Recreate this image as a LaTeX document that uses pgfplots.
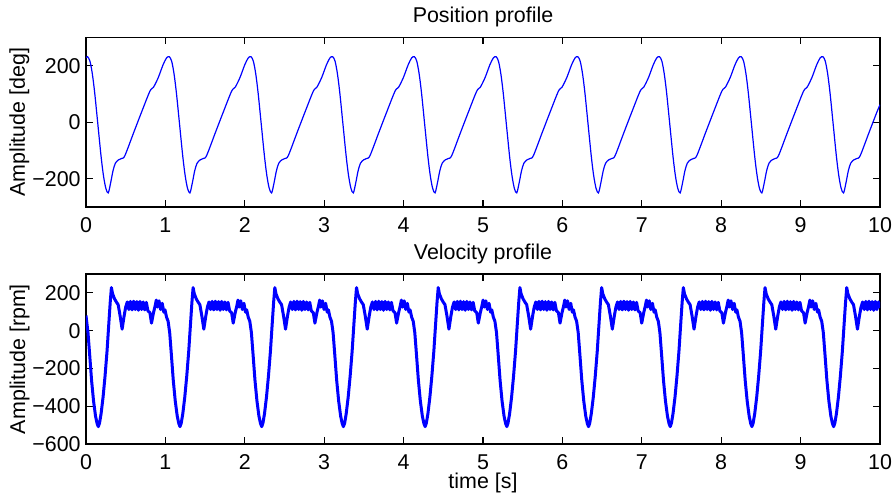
\documentclass[border=0pt]{standalone}
\usepackage{fontspec}
\setmainfont{Liberation Sans}
\usepackage{pgfplots}
\pgfplotsset{compat=1.18}

% matlab-like subplot look, 1 px of the target = 0.5bp
\pgfplotsset{matlab/.style={
  scale only axis,
  width=397bp, height=84.75bp,
  xmin=0, xmax=10,
  xtick={0,1,...,10}, xticklabels={0,1,2,3,4,5,6,7,8,9,10},
  tick align=inside,
  major tick length=3.4bp,
  axis line style={line width=0.6bp},
  every tick/.style={black, line width=0.6bp},
  xticklabel style={inner sep=0pt, anchor=north, yshift=-5bp},
  yticklabel style={inner sep=0pt, anchor=east, xshift=-2.5bp},
  % default title style already lifts it by 6pt
  title style={at={(0.5,1)}, anchor=base, inner sep=0pt, yshift=1.5bp},
  % label is rotated, so its yshift moves it to the left
  ylabel style={at={(rel axis cs:0,0.5)}, anchor=base, inner sep=0pt, yshift=30.5bp},
  xlabel style={at={(rel axis cs:0.5,0)}, anchor=base, inner sep=0pt, yshift=-22.3bp},
}}

\begin{document}
\begin{tikzpicture}[font=\fontsize{10.75}{12.9}\selectfont]

\begin{axis}[matlab, name=top, at={(0,0)}, anchor=north west,
  ymin=-300, ymax=300, ytick={-200,0,200}, yticklabels={−200,0,200},
  title={Position profile}, ylabel={Amplitude [deg]}]
\addplot[blue, line width=0.6bp, smooth] coordinates {
(0,229)
(0.020,232) (0.050,216) (0.080,171) (0.110,103) (0.150,-9) (0.190,-121) (0.220,-189) (0.250,-234) (0.280,-250) (0.310,-215) (0.340,-172) (0.370,-145) (0.410,-133) (0.450,-128) (0.490,-118) (0.600,-37) (0.700,36) (0.805,110) (0.850,124) (0.910,158) (0.970,203) (1.015,228)
(1.049,232) (1.079,216) (1.109,171) (1.139,103) (1.179,-9) (1.219,-121) (1.249,-189) (1.279,-234) (1.309,-250) (1.339,-215) (1.369,-172) (1.399,-145) (1.439,-133) (1.479,-128) (1.519,-118) (1.629,-37) (1.729,36) (1.834,110) (1.879,124) (1.939,158) (1.999,203) (2.044,228)
(2.078,232) (2.108,216) (2.138,171) (2.168,103) (2.208,-9) (2.248,-121) (2.278,-189) (2.308,-234) (2.338,-250) (2.368,-215) (2.398,-172) (2.428,-145) (2.468,-133) (2.508,-128) (2.548,-118) (2.658,-37) (2.758,36) (2.863,110) (2.908,124) (2.968,158) (3.028,203) (3.073,228)
(3.107,232) (3.137,216) (3.167,171) (3.197,103) (3.237,-9) (3.277,-121) (3.307,-189) (3.337,-234) (3.367,-250) (3.397,-215) (3.427,-172) (3.457,-145) (3.497,-133) (3.537,-128) (3.577,-118) (3.687,-37) (3.787,36) (3.892,110) (3.937,124) (3.997,158) (4.057,203) (4.102,228)
(4.136,232) (4.166,216) (4.196,171) (4.226,103) (4.266,-9) (4.306,-121) (4.336,-189) (4.366,-234) (4.396,-250) (4.426,-215) (4.456,-172) (4.486,-145) (4.526,-133) (4.566,-128) (4.606,-118) (4.716,-37) (4.816,36) (4.921,110) (4.966,124) (5.026,158) (5.086,203) (5.131,228)
(5.165,232) (5.195,216) (5.225,171) (5.255,103) (5.295,-9) (5.335,-121) (5.365,-189) (5.395,-234) (5.425,-250) (5.455,-215) (5.485,-172) (5.515,-145) (5.555,-133) (5.595,-128) (5.635,-118) (5.745,-37) (5.845,36) (5.950,110) (5.995,124) (6.055,158) (6.115,203) (6.160,228)
(6.194,232) (6.224,216) (6.254,171) (6.284,103) (6.324,-9) (6.364,-121) (6.394,-189) (6.424,-234) (6.454,-250) (6.484,-215) (6.514,-172) (6.544,-145) (6.584,-133) (6.624,-128) (6.664,-118) (6.774,-37) (6.874,36) (6.979,110) (7.024,124) (7.084,158) (7.144,203) (7.189,228)
(7.223,232) (7.253,216) (7.283,171) (7.313,103) (7.353,-9) (7.393,-121) (7.423,-189) (7.453,-234) (7.483,-250) (7.513,-215) (7.543,-172) (7.573,-145) (7.613,-133) (7.653,-128) (7.693,-118) (7.803,-37) (7.903,36) (8.008,110) (8.053,124) (8.113,158) (8.173,203) (8.218,228)
(8.252,232) (8.282,216) (8.312,171) (8.342,103) (8.382,-9) (8.422,-121) (8.452,-189) (8.482,-234) (8.512,-250) (8.542,-215) (8.572,-172) (8.602,-145) (8.642,-133) (8.682,-128) (8.722,-118) (8.832,-37) (8.932,36) (9.037,110) (9.082,124) (9.142,158) (9.202,203) (9.247,228)
(9.281,232) (9.311,216) (9.341,171) (9.371,103) (9.411,-9) (9.451,-121) (9.481,-189) (9.511,-234) (9.541,-250) (9.571,-215) (9.601,-172) (9.631,-145) (9.671,-133) (9.711,-128) (9.751,-118) (9.861,-37) (9.961,36) (10,62)
};
\end{axis}

\begin{axis}[matlab, at={(0,-118.25bp)}, anchor=north west, height=85bp,
  ymin=-600, ymax=300, ytick={-600,-400,-200,0,200},
  yticklabels={−600,−400,−200,0,200},
  title={Velocity profile}, xlabel={time [s]}, ylabel={Amplitude [rpm]}]
\addplot[blue, line width=1.5bp, line join=round] coordinates {
(0,80)
(0.025,-10) (0.045,-120) (0.070,-262) (0.095,-372) (0.120,-452) (0.140,-492) (0.155,-508) (0.170,-490) (0.190,-440) (0.215,-352) (0.240,-240) (0.265,-108) (0.285,22) (0.305,150) (0.320,228) (0.335,195) (0.360,168) (0.385,150) (0.405,138) (0.430,78) (0.455,8) (0.480,78) (0.500,125) (0.520,152) (0.540,112) (0.560,155) (0.580,110) (0.600,156) (0.620,112) (0.640,154) (0.660,108) (0.680,155) (0.700,112) (0.720,152) (0.740,110) (0.760,150) (0.780,105) (0.805,95) (0.825,40) (0.850,95) (0.870,130) (0.885,162) (0.900,125) (0.920,158) (0.940,112) (0.960,145) (0.980,98) (0.995,110) (1.014,72) (1.034,50)
(1.054,-10) (1.074,-120) (1.099,-262) (1.124,-372) (1.149,-452) (1.169,-492) (1.184,-508) (1.199,-490) (1.219,-440) (1.244,-352) (1.269,-240) (1.294,-108) (1.314,22) (1.334,150) (1.349,228) (1.364,195) (1.389,168) (1.414,150) (1.434,138) (1.459,78) (1.484,8) (1.509,78) (1.529,125) (1.549,152) (1.569,112) (1.589,155) (1.609,110) (1.629,156) (1.649,112) (1.669,154) (1.689,108) (1.709,155) (1.729,112) (1.749,152) (1.769,110) (1.789,150) (1.809,105) (1.834,95) (1.854,40) (1.879,95) (1.899,130) (1.914,162) (1.929,125) (1.949,158) (1.969,112) (1.989,145) (2.009,98) (2.024,110) (2.043,72) (2.063,50)
(2.083,-10) (2.103,-120) (2.128,-262) (2.153,-372) (2.178,-452) (2.198,-492) (2.213,-508) (2.228,-490) (2.248,-440) (2.273,-352) (2.298,-240) (2.323,-108) (2.343,22) (2.363,150) (2.378,228) (2.393,195) (2.418,168) (2.443,150) (2.463,138) (2.488,78) (2.513,8) (2.538,78) (2.558,125) (2.578,152) (2.598,112) (2.618,155) (2.638,110) (2.658,156) (2.678,112) (2.698,154) (2.718,108) (2.738,155) (2.758,112) (2.778,152) (2.798,110) (2.818,150) (2.838,105) (2.863,95) (2.883,40) (2.908,95) (2.928,130) (2.943,162) (2.958,125) (2.978,158) (2.998,112) (3.018,145) (3.038,98) (3.053,110) (3.072,72) (3.092,50)
(3.112,-10) (3.132,-120) (3.157,-262) (3.182,-372) (3.207,-452) (3.227,-492) (3.242,-508) (3.257,-490) (3.277,-440) (3.302,-352) (3.327,-240) (3.352,-108) (3.372,22) (3.392,150) (3.407,228) (3.422,195) (3.447,168) (3.472,150) (3.492,138) (3.517,78) (3.542,8) (3.567,78) (3.587,125) (3.607,152) (3.627,112) (3.647,155) (3.667,110) (3.687,156) (3.707,112) (3.727,154) (3.747,108) (3.767,155) (3.787,112) (3.807,152) (3.827,110) (3.847,150) (3.867,105) (3.892,95) (3.912,40) (3.937,95) (3.957,130) (3.972,162) (3.987,125) (4.007,158) (4.027,112) (4.047,145) (4.067,98) (4.082,110) (4.101,72) (4.121,50)
(4.141,-10) (4.161,-120) (4.186,-262) (4.211,-372) (4.236,-452) (4.256,-492) (4.271,-508) (4.286,-490) (4.306,-440) (4.331,-352) (4.356,-240) (4.381,-108) (4.401,22) (4.421,150) (4.436,228) (4.451,195) (4.476,168) (4.501,150) (4.521,138) (4.546,78) (4.571,8) (4.596,78) (4.616,125) (4.636,152) (4.656,112) (4.676,155) (4.696,110) (4.716,156) (4.736,112) (4.756,154) (4.776,108) (4.796,155) (4.816,112) (4.836,152) (4.856,110) (4.876,150) (4.896,105) (4.921,95) (4.941,40) (4.966,95) (4.986,130) (5.001,162) (5.016,125) (5.036,158) (5.056,112) (5.076,145) (5.096,98) (5.111,110) (5.130,72) (5.150,50)
(5.170,-10) (5.190,-120) (5.215,-262) (5.240,-372) (5.265,-452) (5.285,-492) (5.300,-508) (5.315,-490) (5.335,-440) (5.360,-352) (5.385,-240) (5.410,-108) (5.430,22) (5.450,150) (5.465,228) (5.480,195) (5.505,168) (5.530,150) (5.550,138) (5.575,78) (5.600,8) (5.625,78) (5.645,125) (5.665,152) (5.685,112) (5.705,155) (5.725,110) (5.745,156) (5.765,112) (5.785,154) (5.805,108) (5.825,155) (5.845,112) (5.865,152) (5.885,110) (5.905,150) (5.925,105) (5.950,95) (5.970,40) (5.995,95) (6.015,130) (6.030,162) (6.045,125) (6.065,158) (6.085,112) (6.105,145) (6.125,98) (6.140,110) (6.159,72) (6.179,50)
(6.199,-10) (6.219,-120) (6.244,-262) (6.269,-372) (6.294,-452) (6.314,-492) (6.329,-508) (6.344,-490) (6.364,-440) (6.389,-352) (6.414,-240) (6.439,-108) (6.459,22) (6.479,150) (6.494,228) (6.509,195) (6.534,168) (6.559,150) (6.579,138) (6.604,78) (6.629,8) (6.654,78) (6.674,125) (6.694,152) (6.714,112) (6.734,155) (6.754,110) (6.774,156) (6.794,112) (6.814,154) (6.834,108) (6.854,155) (6.874,112) (6.894,152) (6.914,110) (6.934,150) (6.954,105) (6.979,95) (6.999,40) (7.024,95) (7.044,130) (7.059,162) (7.074,125) (7.094,158) (7.114,112) (7.134,145) (7.154,98) (7.169,110) (7.188,72) (7.208,50)
(7.228,-10) (7.248,-120) (7.273,-262) (7.298,-372) (7.323,-452) (7.343,-492) (7.358,-508) (7.373,-490) (7.393,-440) (7.418,-352) (7.443,-240) (7.468,-108) (7.488,22) (7.508,150) (7.523,228) (7.538,195) (7.563,168) (7.588,150) (7.608,138) (7.633,78) (7.658,8) (7.683,78) (7.703,125) (7.723,152) (7.743,112) (7.763,155) (7.783,110) (7.803,156) (7.823,112) (7.843,154) (7.863,108) (7.883,155) (7.903,112) (7.923,152) (7.943,110) (7.963,150) (7.983,105) (8.008,95) (8.028,40) (8.053,95) (8.073,130) (8.088,162) (8.103,125) (8.123,158) (8.143,112) (8.163,145) (8.183,98) (8.198,110) (8.217,72) (8.237,50)
(8.257,-10) (8.277,-120) (8.302,-262) (8.327,-372) (8.352,-452) (8.372,-492) (8.387,-508) (8.402,-490) (8.422,-440) (8.447,-352) (8.472,-240) (8.497,-108) (8.517,22) (8.537,150) (8.552,228) (8.567,195) (8.592,168) (8.617,150) (8.637,138) (8.662,78) (8.687,8) (8.712,78) (8.732,125) (8.752,152) (8.772,112) (8.792,155) (8.812,110) (8.832,156) (8.852,112) (8.872,154) (8.892,108) (8.912,155) (8.932,112) (8.952,152) (8.972,110) (8.992,150) (9.012,105) (9.037,95) (9.057,40) (9.082,95) (9.102,130) (9.117,162) (9.132,125) (9.152,158) (9.172,112) (9.192,145) (9.212,98) (9.227,110) (9.246,72) (9.266,50)
(9.286,-10) (9.306,-120) (9.331,-262) (9.356,-372) (9.381,-452) (9.401,-492) (9.416,-508) (9.431,-490) (9.451,-440) (9.476,-352) (9.501,-240) (9.526,-108) (9.546,22) (9.566,150) (9.581,228) (9.596,195) (9.621,168) (9.646,150) (9.666,138) (9.691,78) (9.716,8) (9.741,78) (9.761,125) (9.781,152) (9.801,112) (9.821,155) (9.841,110) (9.861,156) (9.881,112) (9.901,154) (9.921,108) (9.941,155) (9.961,112) (9.981,152) (10,120)
};
\end{axis}

% page frame, same proportions as the target picture
\pgfresetboundingbox
\path[use as bounding box] (-43bp,18.75bp) rectangle (403bp,-229.75bp);
\end{tikzpicture}
\end{document}
